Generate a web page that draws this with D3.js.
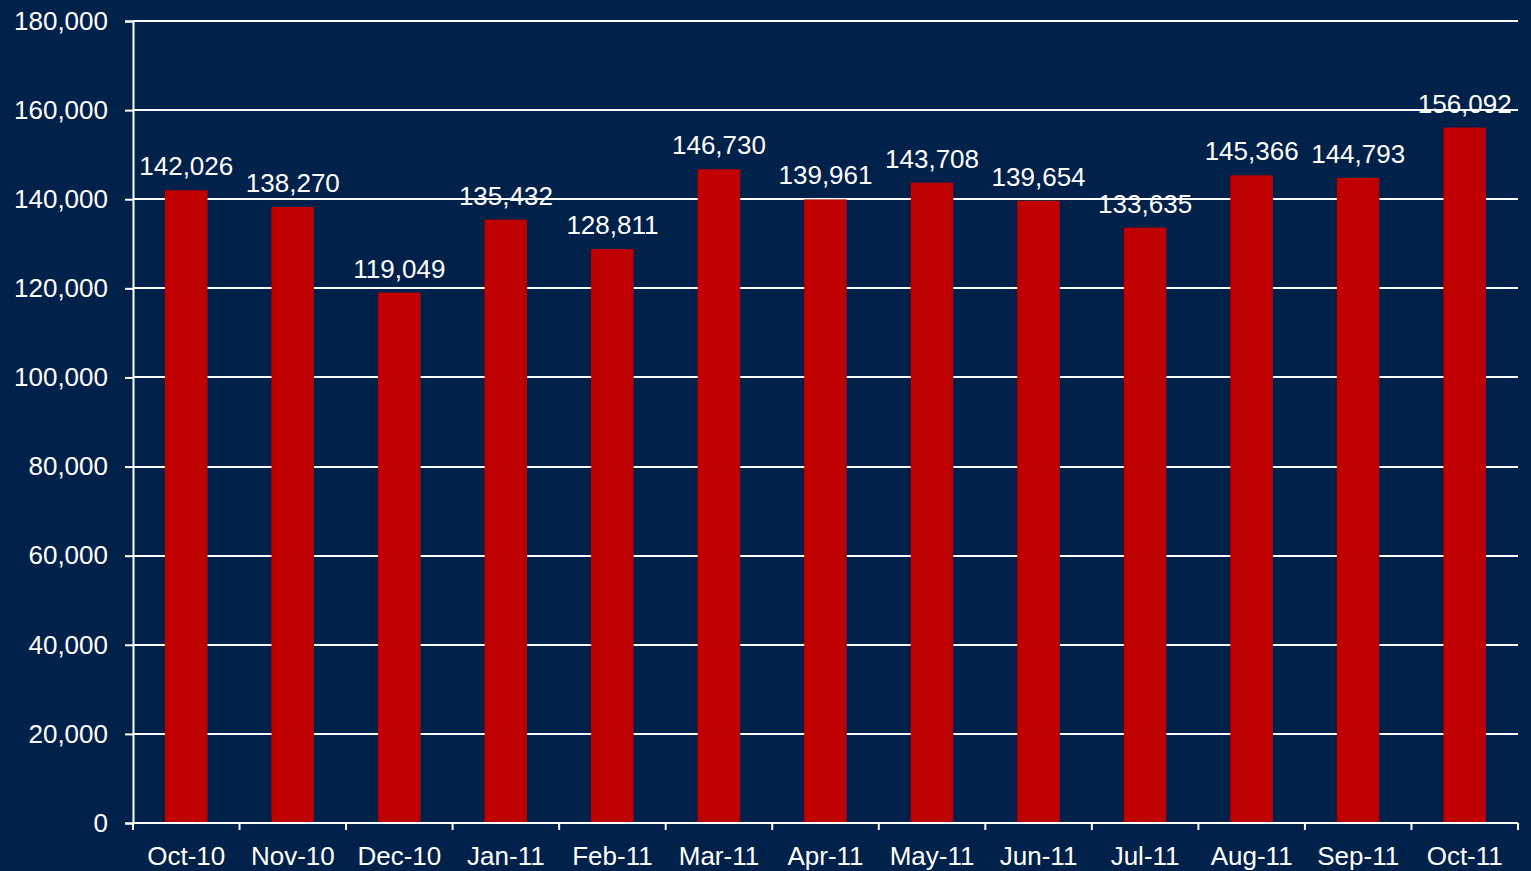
<!DOCTYPE html>
<html>
<head>
<meta charset="utf-8">
<script src="https://cdn.jsdelivr.net/npm/d3@7"></script>
<style>
  html, body { margin: 0; padding: 0; background: #00214A; }
  svg { display: block; }
</style>
</head>
<body>
<script>
const months = ['Oct-10', 'Nov-10', 'Dec-10', 'Jan-11', 'Feb-11', 'Mar-11', 'Apr-11',
    'May-11', 'Jun-11', 'Jul-11', 'Aug-11', 'Sep-11', 'Oct-11'];
const values = [142026, 138270, 119049, 135432, 128811, 146730, 139961,
    143708, 139654, 133635, 145366, 144793, 156092];
const yTicks = [0, 20000, 40000, 60000, 80000, 100000, 120000, 140000, 160000, 180000];

const config = {
    width: 1531,
    height: 871,
    margin: { top: 21, right: 13, bottom: 48, left: 133 },
    bg: '#00214A',
    bar: '#C00000',
    font: '"Liberation Sans", Arial, sans-serif',
    fontSize: 26,
    labelGap: 15,
};

const w = config.width - config.margin.left - config.margin.right;
const h = config.height - config.margin.top - config.margin.bottom;

const svg = d3.select('body')
    .append('svg')
    .attr('width', config.width)
    .attr('height', config.height)
    .style('font-family', config.font);

svg.append('rect')
    .attr('width', config.width)
    .attr('height', config.height)
    .attr('fill', config.bg);

const g = svg.append('g')
    .attr('transform', `translate(${config.margin.left},${config.margin.top})`);

const x = d3.scaleBand()
    .domain(months)
    .range([0, w])
    .paddingInner(0.6)
    .paddingOuter(0.3);

const y = d3.scaleLinear()
    .domain([0, 180000])
    .range([h, 0]);

const fmt = d3.format(',');

// y axis
const yAxis = g.append('g')
    .call(d3.axisLeft(y).tickValues(yTicks).tickFormat(fmt).tickSize(8).tickPadding(17));
yAxis.select('.domain').attr('stroke', '#fff').attr('stroke-width', 2);
yAxis.selectAll('.tick line').attr('stroke', '#fff').attr('stroke-width', 2);
yAxis.selectAll('.tick text')
    .attr('fill', '#fff')
    .style('font-size', config.fontSize + 'px')
    .style('font-family', config.font);

// gridlines
g.append('g')
    .selectAll('line')
    .data(yTicks.filter(d => d > 0))
    .enter()
    .append('line')
    .attr('x1', 0)
    .attr('x2', w)
    .attr('y1', d => Math.round(y(d)))
    .attr('y2', d => Math.round(y(d)))
    .attr('stroke', '#fff')
    .attr('stroke-width', 2);

// bars
g.selectAll('rect.bar')
    .data(values)
    .enter()
    .append('rect')
    .attr('class', 'bar')
    .attr('x', (d, i) => x(months[i]))
    .attr('width', x.bandwidth())
    .attr('y', d => y(d))
    .attr('height', d => h - y(d))
    .attr('fill', config.bar);

// value labels
g.selectAll('text.val')
    .data(values)
    .enter()
    .append('text')
    .attr('class', 'val')
    .attr('x', (d, i) => x(months[i]) + x.bandwidth() / 2)
    .attr('y', d => y(d) - config.labelGap)
    .attr('text-anchor', 'middle')
    .attr('fill', '#fff')
    .style('font-size', config.fontSize + 'px')
    .text(d => fmt(d));

// x axis, ticks between categories
const step = x.step();
const xAxis = g.append('g').attr('transform', `translate(0,${h})`);
xAxis.append('line')
    .attr('x1', 0).attr('x2', w)
    .attr('stroke', '#fff').attr('stroke-width', 2);
xAxis.selectAll('line.tk')
    .data(d3.range(months.length + 1))
    .enter()
    .append('line')
    .attr('class', 'tk')
    .attr('x1', i => i * step)
    .attr('x2', i => i * step)
    .attr('y1', 0)
    .attr('y2', 7)
    .attr('stroke', '#fff')
    .attr('stroke-width', 2);
xAxis.selectAll('text')
    .data(months)
    .enter()
    .append('text')
    .attr('x', d => x(d) + x.bandwidth() / 2)
    .attr('y', 42)
    .attr('text-anchor', 'middle')
    .attr('fill', '#fff')
    .style('font-size', config.fontSize + 'px')
    .text(d => d);
</script>
</body>
</html>
